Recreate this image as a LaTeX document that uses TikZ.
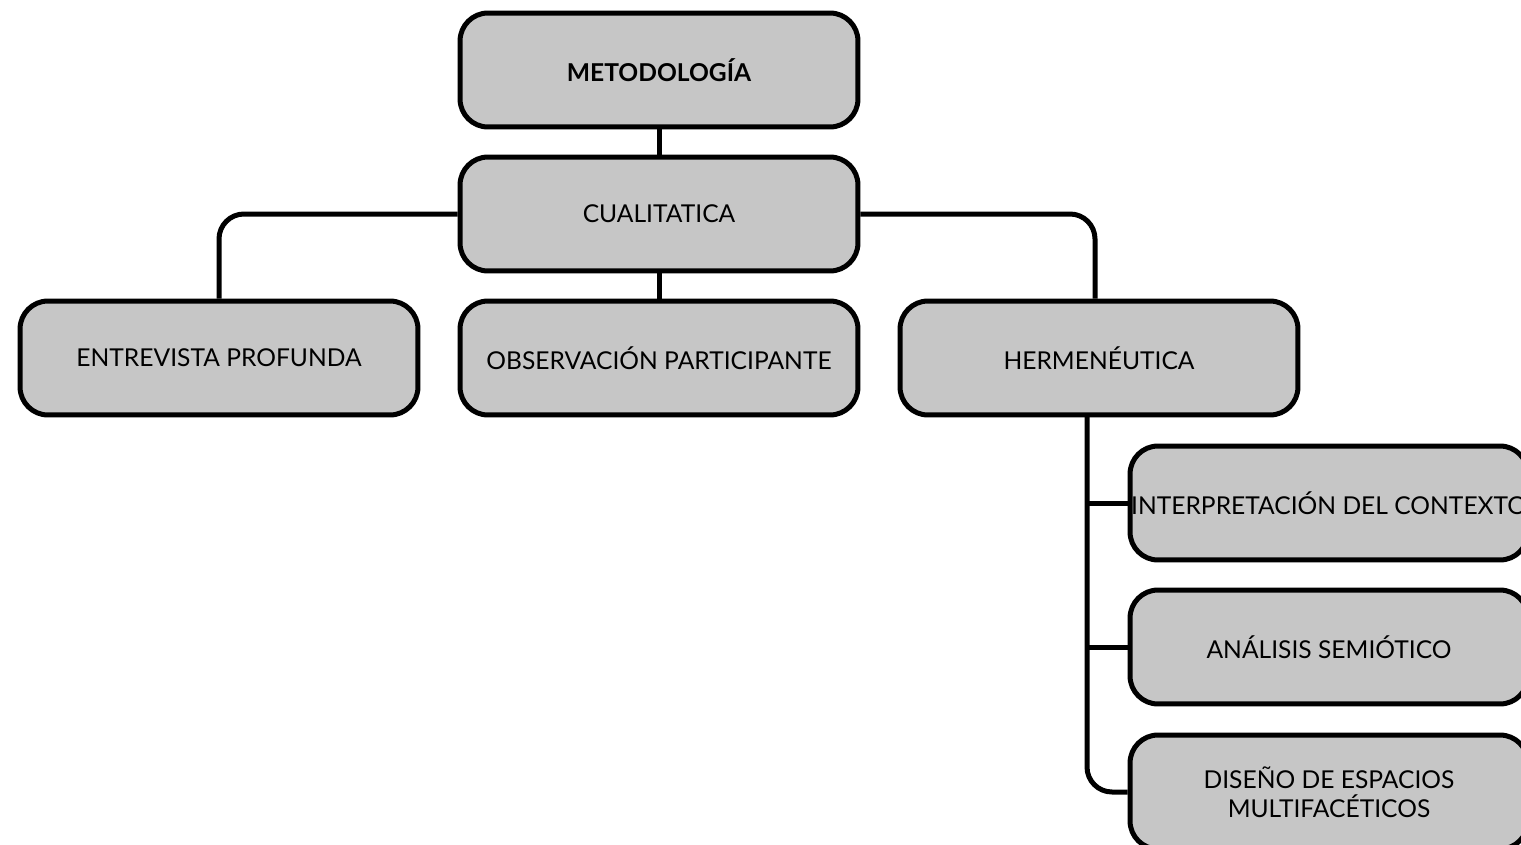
\documentclass[tikz,border=0pt]{standalone}
\usepackage{fontspec}
\setmainfont{Lato}
\definecolor{gris}{HTML}{C6C6C6}

\begin{document}
\begin{tikzpicture}[x=0.02cm,y=-0.02cm,
  caja/.style={draw,line width=0.1cm,fill=gris,rounded corners=0.56cm,
    minimum width=7.96cm,minimum height=2.28cm,align=center,inner xsep=0pt,
    font=\fontsize{14}{16.5}\selectfont},
  liga/.style={line width=0.1cm,rounded corners=0.5cm}]
\useasboundingbox (0,0) rectangle (1521,845);
\node[caja,font=\fontsize{14}{16.5}\selectfont\bfseries] (metodo) at (659,70) {METODOLOGÍA};
\node[caja] (cuali) at (659,214) {CUALITATICA};
\node[caja] (entre) at (219,358) {ENTREVISTA PROFUNDA};
\node[caja] (obser) at (659,358) {OBSERVACIÓN PARTICIPANTE};
\node[caja] (herme) at (1099,358) {HERMENÉUTICA};
\node[caja] (inter) at (1329,503) {INTERPRETACIÓN DEL CONTEXTO};
\node[caja] (anali) at (1329,647) {ANÁLISIS SEMIÓTICO};
\node[caja] (disen) at (1329,792) {DISEÑO DE ESPACIOS\\MULTIFACÉTICOS};
\coordinate (tronco) at (1087,415);
% ramas
\draw[liga] (metodo) -- (cuali);
\draw[liga] (cuali) -- (obser);
\draw[liga] (cuali.west) -| (entre.north);
\draw[liga] (cuali.east) -| ([xshift=-0.08cm]herme.north);
\draw[liga] (tronco) |- (disen.west);
\foreach \hoja in {inter,anali}
\draw[liga] (tronco |- \hoja.west) -- (\hoja.west);
\end{tikzpicture}
\end{document}
